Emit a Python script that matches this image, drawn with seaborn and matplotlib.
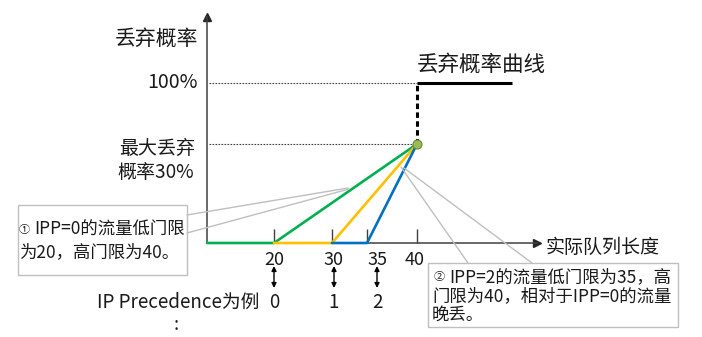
import numpy as np
import pandas as pd
import matplotlib
matplotlib.use("Agg")
import matplotlib.pyplot as plt
import matplotlib.transforms as mtransforms
from matplotlib.patches import Rectangle
from matplotlib.lines import Line2D
import seaborn as sns

# ---------------- data ----------------
ipp_levels = [0, 1, 2]
line_starts = [0, 20, 30]          # where each coloured curve starts on the axis
low_thresholds = [20, 30, 35]
high_threshold = 40
max_drop_pct = 30
full_drop_pct = 100
curve_end = 60
xtick_values = [20, 30, 35, 40]
xtick_labels = ["20", "30", "35", "40"]
line_colors = ["#00B050", "#FFC000", "#0070C0"]

sns.set_theme(style="white")
plt.rcParams["font.family"] = ["Noto Sans CJK SC", "DejaVu Sans"]

W, H = 702, 337
fig = plt.figure(figsize=(W / 100, H / 100), dpi=100)
fig.patch.set_facecolor("white")
ox, oy, top, right = 207, 243, 17, 537
ax = fig.add_axes([ox / W, (H - oy) / H, (right - ox) / W, (oy - top) / H])
ax.set_facecolor("none")

rows = []
for ipp, s, lo in zip(ipp_levels, line_starts, low_thresholds):
    for x, y in [(s, 0), (lo, 0), (high_threshold, max_drop_pct)]:
        rows.append(dict(ipp=str(ipp), x=x, y=y))
df = pd.DataFrame(rows)
sns.lineplot(data=df, x="x", y="y", hue="ipp", palette=line_colors, sort=False,
             estimator=None, lw=1.9, legend=False, ax=ax, zorder=3, clip_on=False)

# reference dotted lines
for yv in [full_drop_pct, max_drop_pct]:
    ax.plot([0.6, high_threshold], [yv, yv], color="#404040", lw=0.8,
            ls=(0, (1.5, 1.2)), zorder=2)

# black drop curve
ax.plot([high_threshold, high_threshold], [max_drop_pct, full_drop_pct], color="black",
        lw=2.2, ls=(0, (1.8, 1.1)), zorder=4)
ax.plot([high_threshold, curve_end], [full_drop_pct, full_drop_pct], color="black",
        lw=2.2, solid_capstyle="butt", zorder=4)
ax.plot([high_threshold], [max_drop_pct], "o", ms=6.5, mfc="#9BBB59", mec="#6E8C3A",
        mew=0.8, zorder=6, clip_on=False)

# scales (non-proportional diagram axes)
xp = [-100, 0, 20, 30, 35, 40, 60, 200]
xpx = [-335, 0, 67, 125, 160, 210, 305, 970]
yp = [-100, 0, 30, 100, 176, 400]
ypx = [-330, 0, 99, 160, 226, 421]
fx = lambda v: np.interp(v, xp, xpx)
ix = lambda p: np.interp(p, xpx, xp)
fy = lambda v: np.interp(v, yp, ypx)
iy = lambda p: np.interp(p, ypx, yp)
ax.set_xscale("function", functions=(fx, ix))
ax.set_yscale("function", functions=(fy, iy))
ax.set_xlim(0, float(ix(right - ox)))
ax.set_ylim(0, float(iy(oy - top)))
ax.set_xlabel("")
ax.set_ylabel("")

for sp in ["top", "right"]:
    ax.spines[sp].set_visible(False)
for sp in ["left", "bottom"]:
    ax.spines[sp].set_color("#404040")
    ax.spines[sp].set_linewidth(1.1)
ax.set_xticks(xtick_values)
ax.set_yticks([])
ax.tick_params(axis="x", bottom=True, direction="in", length=10, width=1,
               color="#404040", labelbottom=False)
ax.plot([1], [0], marker=">", ms=6, color="#262626", transform=ax.transAxes, clip_on=False)
ax.plot([0], [1], marker="^", ms=6, color="#262626", transform=ax.transAxes, clip_on=False)

TC = "#1a1a1a"
def ftext(px, py, s, **kw):
    kw.setdefault("color", TC)
    fig.text(px / W, 1 - py / H, s, **kw)

bt = mtransforms.blended_transform_factory(ax.transData, fig.transFigure)
label_shift_px = [0, 2, 10, -2]
for v, lab, sh in zip(xtick_values, xtick_labels, label_shift_px):
    t = bt + mtransforms.ScaledTranslation(sh / 100, 0, fig.dpi_scale_trans)
    ax.text(v, 1 - 260 / H, lab, transform=t, ha="center", va="center", fontsize=13, color=TC)
for v, lvl, sh in zip(low_thresholds, ipp_levels, label_shift_px):
    t = bt + mtransforms.ScaledTranslation(sh / 100, 0, fig.dpi_scale_trans)
    ax.annotate("", xy=(v, 1 - 266 / H), xytext=(v, 1 - 288 / H), xycoords=t, textcoords=t,
                arrowprops=dict(arrowstyle="<|-|>", color="black", lw=1, mutation_scale=7,
                                shrinkA=0, shrinkB=0))
    ax.text(v, 1 - 302 / H, str(lvl), transform=t, ha="center", va="center", fontsize=13.5, color=TC)

ftext(259, 302, "IP Precedence为例", ha="right", va="center", fontsize=13.5)
ftext(176, 325, ":", ha="center", va="center", fontsize=13)

ftext(157, 39, "丢弃概率", ha="center", va="center", fontsize=15)
ftext(198, 83, "100%", ha="right", va="center", fontsize=14)
ftext(195, 148, "最大丢弃", ha="right", va="center", fontsize=13.7)
ftext(194, 172, "概率30%", ha="right", va="center", fontsize=13.7)
ftext(417, 65, "丢弃概率曲线", ha="left", va="center", fontsize=15.5)
ftext(546, 247, "实际队列长度", ha="left", va="center", fontsize=13.7)

# callout boxes
def fbox(x0, y0, x1, y1):
    fig.add_artist(Rectangle((x0 / W, 1 - y1 / H), (x1 - x0) / W, (y1 - y0) / H,
                             transform=fig.transFigure, fc="white", ec="#BFBFBF", lw=1, zorder=1))
def fline(x0, y0, x1, y1):
    fig.add_artist(Line2D([x0 / W, x1 / W], [1 - y0 / H, 1 - y1 / H],
                          transform=fig.transFigure, color="#BFBFBF", lw=1, zorder=1))

fbox(18, 205, 187, 275)
fline(187, 215, 348, 188)
fline(187, 233, 349, 189)
fbox(428, 263, 678, 327)
fline(401, 167, 468, 263)
fline(404, 168, 532, 263)

ftext(24, 230, "①", ha="center", va="center", fontsize=8)
ftext(34, 230, "IPP=0的流量低门限", ha="left", va="center", fontsize=12.5)
ftext(19, 252, "为20，高门限为40。", ha="left", va="center", fontsize=12.5)
ftext(439, 277, "②", ha="center", va="center", fontsize=8)
ftext(449, 277, "IPP=2的流量低门限为35，高", ha="left", va="center", fontsize=12.5)
ftext(432, 296, "门限为40，相对于IPP=0的流量", ha="left", va="center", fontsize=12.5)
ftext(432, 315, "晚丢。", ha="left", va="center", fontsize=12.5)

fig.savefig("out.png", dpi=100, facecolor="white")
